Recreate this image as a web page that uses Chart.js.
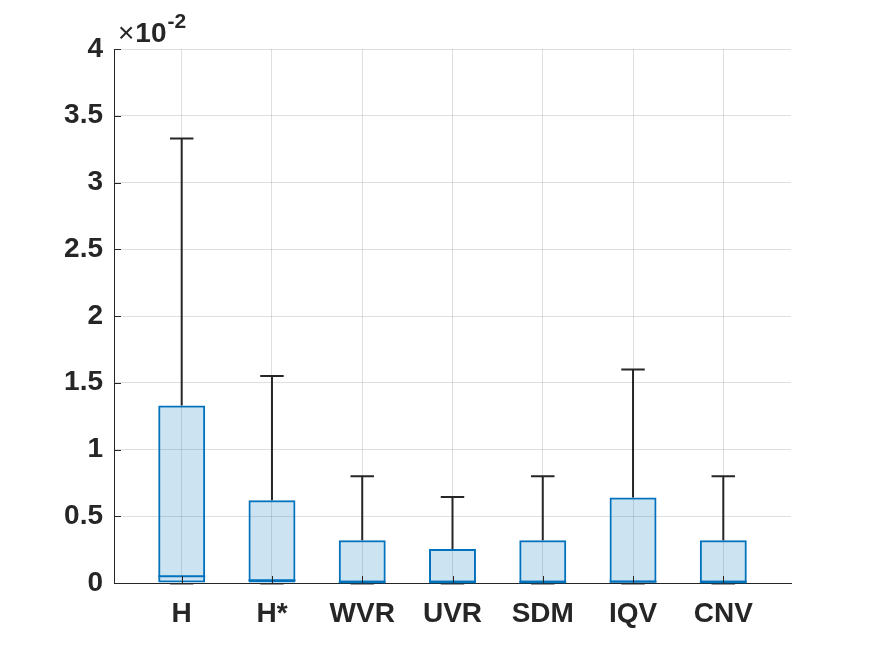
<!DOCTYPE html>
<html>
<head>
<meta charset="utf-8">
<script src="https://cdn.jsdelivr.net/npm/chart.js@4.4.1/dist/chart.umd.min.js"></script>
<style>
  html, body { margin: 0; padding: 0; background: #ffffff; }
  #wrap { width: 875px; height: 656px; position: relative; }
</style>
</head>
<body>
<div id="wrap"><canvas id="chartCanvas"></canvas></div>
<script>
// box plot values (real units, axis shows them x 10^-2)
const categories = ['H', 'H*', 'WVR', 'UVR', 'SDM', 'IQV', 'CNV'];
const positions = [1, 2, 3, 4, 5, 6, 7];
const lowerWhisker = [0, 0, 0, 0, 0, 0, 0];
const q1 = [0, 0, 0, 0, 0, 0, 0];
const medians = [0.0005, 0.0002, 0.00005, 0.00005, 0.00005, 0.0001, 0.00005];
const q3 = [0.0133, 0.0062, 0.0032, 0.00255, 0.0032, 0.0064, 0.0032];
const upperWhisker = [0.0333, 0.0155, 0.0080, 0.00645, 0.0080, 0.0160, 0.0080];

const yTicks = [0, 0.005, 0.01, 0.015, 0.02, 0.025, 0.03, 0.035, 0.04];
const yTickLabels = ['0', '0.5', '1', '1.5', '2', '2.5', '3', '3.5', '4'];

const blue = '#0072BD';
const dark = '#262626';
const fontFamily = '"Liberation Sans", Arial, Helvetica, sans-serif';

const boxPlotParts = {
    id: 'boxPlotParts',
    afterDatasetsDraw(chart) {
        const { ctx, scales: { x, y } } = chart;
        const bars = chart.getDatasetMeta(0).data;
        ctx.save();
        ctx.lineCap = 'butt';
        positions.forEach((pos, i) => {
            const px = x.getPixelForValue(pos);
            const half = bars[i].width / 2;
            const cap = half / 2;
            // whiskers
            ctx.strokeStyle = dark;
            ctx.lineWidth = 2;
            ctx.beginPath();
            ctx.moveTo(px, y.getPixelForValue(q3[i]));
            ctx.lineTo(px, y.getPixelForValue(upperWhisker[i]));
            ctx.moveTo(px - cap, y.getPixelForValue(upperWhisker[i]));
            ctx.lineTo(px + cap, y.getPixelForValue(upperWhisker[i]));
            ctx.moveTo(px, y.getPixelForValue(q1[i]));
            ctx.lineTo(px, y.getPixelForValue(lowerWhisker[i]));
            ctx.stroke();
            ctx.strokeStyle = 'rgba(38,38,38,0.45)';
            ctx.beginPath();
            ctx.moveTo(px - cap, y.getPixelForValue(lowerWhisker[i]) + 1);
            ctx.lineTo(px + cap, y.getPixelForValue(lowerWhisker[i]) + 1);
            ctx.stroke();
            // median
            ctx.strokeStyle = blue;
            ctx.lineWidth = 2;
            ctx.beginPath();
            ctx.moveTo(px - half, y.getPixelForValue(medians[i]));
            ctx.lineTo(px + half, y.getPixelForValue(medians[i]));
            ctx.stroke();
        });
        // inward ticks
        const area = chart.chartArea;
        ctx.strokeStyle = dark;
        ctx.lineWidth = 1;
        ctx.beginPath();
        yTicks.forEach(v => {
            const py = Math.round(y.getPixelForValue(v)) + 0.5;
            ctx.moveTo(area.left, py);
            ctx.lineTo(area.left + 7, py);
        });
        positions.forEach(pos => {
            const px = Math.round(x.getPixelForValue(pos)) + 0.5;
            ctx.moveTo(px, area.bottom);
            ctx.lineTo(px, area.bottom - 7);
        });
        ctx.stroke();
        ctx.restore();
    },
    afterDraw(chart) {
        const { ctx, chartArea } = chart;
        ctx.save();
        ctx.fillStyle = dark;
        ctx.textBaseline = 'alphabetic';
        ctx.textAlign = 'left';
        let xPos = chartArea.left + 4;
        ctx.font = '28px ' + fontFamily;
        ctx.fillText('\u00d7', xPos, chartArea.top - 7);
        xPos += ctx.measureText('\u00d7').width + 1;
        ctx.font = 'bold 28px ' + fontFamily;
        ctx.fillText('10', xPos, chartArea.top - 7);
        xPos += ctx.measureText('10').width + 1;
        ctx.font = 'bold 21px ' + fontFamily;
        ctx.fillText('-2', xPos, chartArea.top - 21);
        ctx.restore();
    }
};

const ctx = document.getElementById('chartCanvas').getContext('2d');
const chart = new Chart(ctx, {
    type: 'bar',
    data: {
        datasets: [{
            data: positions.map((pos, i) => ({ x: pos, y: [q1[i], q3[i]] })),
            backgroundColor: 'rgba(0, 114, 189, 0.2)',
            borderColor: blue,
            borderWidth: 2,
            borderSkipped: false,
            barPercentage: 0.52,
            categoryPercentage: 1
        }]
    },
    options: {
        responsive: true,
        maintainAspectRatio: false,
        animation: false,
        devicePixelRatio: 1,
        layout: { padding: { left: 0, top: 49, right: 84, bottom: 0 } },
        plugins: {
            legend: { display: false },
            tooltip: { enabled: false }
        },
        scales: {
            x: {
                type: 'linear',
                min: 0.25,
                max: 7.75,
                offset: false,
                afterBuildTicks: scale => { scale.ticks = positions.map(v => ({ value: v })); },
                afterFit: scale => { scale.height = 73; },
                grid: { color: 'rgba(38,38,38,0.15)', lineWidth: 1, drawTicks: false, offset: false },
                border: { display: true, color: dark, width: 1 },
                ticks: {
                    padding: 14,
                    color: dark,
                    font: { family: fontFamily, size: 28, weight: 'bold' },
                    callback: (v, i) => categories[i]
                }
            },
            y: {
                min: 0,
                max: 0.04,
                afterBuildTicks: scale => { scale.ticks = yTicks.map(v => ({ value: v })); },
                afterFit: scale => { scale.width = 114; },
                grid: { color: 'rgba(38,38,38,0.15)', lineWidth: 1, drawTicks: false },
                border: { display: true, color: dark, width: 1 },
                ticks: {
                    padding: 11,
                    color: dark,
                    font: { family: fontFamily, size: 28, weight: 'bold' },
                    callback: (v, i) => yTickLabels[i]
                }
            }
        }
    },
    plugins: [boxPlotParts]
});
</script>
</body>
</html>
